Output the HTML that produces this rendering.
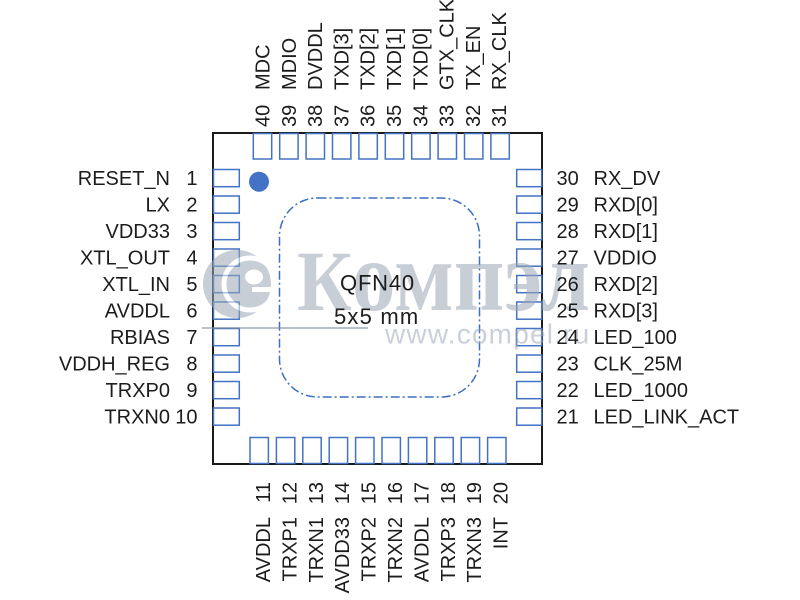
<!DOCTYPE html>
<html>
<head>
<meta charset="utf-8">
<style>
html,body{margin:0;padding:0;background:#fff;}
svg{display:block;}
text{font-family:"Liberation Sans","DejaVu Sans",sans-serif;fill:#1c1c1c;}
</style>
</head>
<body>
<svg width="800" height="600" viewBox="0 0 800 600" xmlns="http://www.w3.org/2000/svg">
  <rect x="0" y="0" width="800" height="600" fill="#fff"/>
  <!-- chip body -->
  <rect x="213" y="133" width="329" height="331" fill="#fff" stroke="#1a1a1a" stroke-width="2"/>

  <!-- inner dash-dot rounded rect -->
  <rect x="279.5" y="198" width="200" height="199" rx="38" ry="38" fill="none" stroke="#3f6fc0" stroke-width="1.5" stroke-dasharray="9 3 2 3"/>

  <!-- pins -->
  <g fill="#fff" stroke="#4472c4" stroke-width="1.5">
    <rect x="213.5" y="169.5" width="25.8" height="17.2"/>
    <rect x="213.5" y="196" width="25.8" height="17.2"/>
    <rect x="213.5" y="222.5" width="25.8" height="17.2"/>
    <rect x="213.5" y="249" width="25.8" height="17.2"/>
    <rect x="213.5" y="275.5" width="25.8" height="17.2"/>
    <rect x="213.5" y="302" width="25.8" height="17.2"/>
    <rect x="213.5" y="328.5" width="25.8" height="17.2"/>
    <rect x="213.5" y="355" width="25.8" height="17.2"/>
    <rect x="213.5" y="381.5" width="25.8" height="17.2"/>
    <rect x="213.5" y="408" width="25.8" height="17.2"/>
    <rect x="516.7" y="169.5" width="25" height="17.2"/>
    <rect x="516.7" y="196" width="25" height="17.2"/>
    <rect x="516.7" y="222.5" width="25" height="17.2"/>
    <rect x="516.7" y="249" width="25" height="17.2"/>
    <rect x="516.7" y="275.5" width="25" height="17.2"/>
    <rect x="516.7" y="302" width="25" height="17.2"/>
    <rect x="516.7" y="328.5" width="25" height="17.2"/>
    <rect x="516.7" y="355" width="25" height="17.2"/>
    <rect x="516.7" y="381.5" width="25" height="17.2"/>
    <rect x="516.7" y="408" width="25" height="17.2"/>
    <rect x="253.3" y="133.5" width="18.4" height="25.5"/>
    <rect x="279.7" y="133.5" width="18.4" height="25.5"/>
    <rect x="306.1" y="133.5" width="18.4" height="25.5"/>
    <rect x="332.5" y="133.5" width="18.4" height="25.5"/>
    <rect x="358.9" y="133.5" width="18.4" height="25.5"/>
    <rect x="385.3" y="133.5" width="18.4" height="25.5"/>
    <rect x="411.7" y="133.5" width="18.4" height="25.5"/>
    <rect x="438.1" y="133.5" width="18.4" height="25.5"/>
    <rect x="464.5" y="133.5" width="18.4" height="25.5"/>
    <rect x="490.9" y="133.5" width="18.4" height="25.5"/>
    <rect x="250" y="437.5" width="18.4" height="26"/>
    <rect x="276.4" y="437.5" width="18.4" height="26"/>
    <rect x="302.8" y="437.5" width="18.4" height="26"/>
    <rect x="329.2" y="437.5" width="18.4" height="26"/>
    <rect x="355.6" y="437.5" width="18.4" height="26"/>
    <rect x="382" y="437.5" width="18.4" height="26"/>
    <rect x="408.4" y="437.5" width="18.4" height="26"/>
    <rect x="434.8" y="437.5" width="18.4" height="26"/>
    <rect x="461.2" y="437.5" width="18.4" height="26"/>
    <rect x="487.6" y="437.5" width="18.4" height="26"/>
  </g>

  <!-- pin 1 dot -->
  <circle cx="259" cy="181.7" r="10" fill="#4472c4"/>

  <!-- watermark -->
  <g opacity="0.55">
    <line x1="202" y1="328" x2="368" y2="328" stroke="#7f8da0" stroke-width="2"/>
    <circle cx="237" cy="284" r="34" fill="#9aa7b6"/>
    <circle cx="250" cy="284" r="26" fill="none" stroke="#fff" stroke-width="5"/>
    <ellipse cx="254" cy="277" rx="9" ry="7.5" fill="#fff"/>
    <rect x="252" y="287" width="24" height="5" fill="#fff"/>
    <text x="297" y="310" textLength="293" lengthAdjust="spacingAndGlyphs" style="fill:#9aa7b6;font-family:'Liberation Serif','DejaVu Serif',serif;font-weight:bold;"><tspan style="font-size:86px">К</tspan><tspan style="font-size:100px">омпэл</tspan></text>
    <text x="385" y="343.5" style="fill:#9eaabb;font-size:28px;letter-spacing:1.2px;">www.compel.ru</text>
  </g>

  <!-- center labels -->
  <text x="377.5" y="290.5" text-anchor="middle" style="font-size:22px;letter-spacing:0.8px;">QFN40</text>
  <text x="376.7" y="324" text-anchor="middle" style="font-size:22px;letter-spacing:1.2px;">5x5 mm</text>

  <g style="font-size:20px;">
    <g text-anchor="end">
      <text x="170" y="185">RESET_N</text>
      <text x="170" y="211.5">LX</text>
      <text x="170" y="238">VDD33</text>
      <text x="170" y="264.5">XTL_OUT</text>
      <text x="170" y="291">XTL_IN</text>
      <text x="170" y="317.5">AVDDL</text>
      <text x="170" y="344">RBIAS</text>
      <text x="170" y="370.5">VDDH_REG</text>
      <text x="170" y="397">TRXP0</text>
      <text x="170" y="423.5">TRXN0</text>
      <text x="197.5" y="185">1</text>
      <text x="197.5" y="211.5">2</text>
      <text x="197.5" y="238">3</text>
      <text x="197.5" y="264.5">4</text>
      <text x="197.5" y="291">5</text>
      <text x="197.5" y="317.5">6</text>
      <text x="197.5" y="344">7</text>
      <text x="197.5" y="370.5">8</text>
      <text x="197.5" y="397">9</text>
      <text x="197.5" y="423.5">10</text>
    </g>
    <g>
      <text x="556.5" y="185">30</text>
      <text x="556.5" y="211.5">29</text>
      <text x="556.5" y="238">28</text>
      <text x="556.5" y="264.5">27</text>
      <text x="556.5" y="291">26</text>
      <text x="556.5" y="317.5">25</text>
      <text x="556.5" y="344">24</text>
      <text x="556.5" y="370.5">23</text>
      <text x="556.5" y="397">22</text>
      <text x="556.5" y="423.5">21</text>
      <text x="593.5" y="185">RX_DV</text>
      <text x="593.5" y="211.5">RXD[0]</text>
      <text x="593.5" y="238">RXD[1]</text>
      <text x="593.5" y="264.5">VDDIO</text>
      <text x="593.5" y="291">RXD[2]</text>
      <text x="593.5" y="317.5">RXD[3]</text>
      <text x="593.5" y="344">LED_100</text>
      <text x="593.5" y="370.5">CLK_25M</text>
      <text x="593.5" y="397">LED_1000</text>
      <text x="593.5" y="423.5">LED_LINK_ACT</text>
    </g>
    <g>
      <text transform="translate(269.5,127) rotate(-90)">40</text>
      <text transform="translate(295.8,127) rotate(-90)">39</text>
      <text transform="translate(322.1,127) rotate(-90)">38</text>
      <text transform="translate(348.4,127) rotate(-90)">37</text>
      <text transform="translate(374.7,127) rotate(-90)">36</text>
      <text transform="translate(401,127) rotate(-90)">35</text>
      <text transform="translate(427.3,127) rotate(-90)">34</text>
      <text transform="translate(453.6,127) rotate(-90)">33</text>
      <text transform="translate(479.9,127) rotate(-90)">32</text>
      <text transform="translate(506.2,127) rotate(-90)">31</text>
      <text transform="translate(269.5,90) rotate(-90)">MDC</text>
      <text transform="translate(295.8,90) rotate(-90)">MDIO</text>
      <text transform="translate(322.1,90) rotate(-90)">DVDDL</text>
      <text transform="translate(348.4,90) rotate(-90)">TXD[3]</text>
      <text transform="translate(374.7,90) rotate(-90)">TXD[2]</text>
      <text transform="translate(401,90) rotate(-90)">TXD[1]</text>
      <text transform="translate(427.3,90) rotate(-90)">TXD[0]</text>
      <text transform="translate(453.6,90) rotate(-90)">GTX_CLK</text>
      <text transform="translate(479.9,90) rotate(-90)">TX_EN</text>
      <text transform="translate(506.2,90) rotate(-90)">RX_CLK</text>
    </g>
    <g text-anchor="end">
      <text transform="translate(270,482) rotate(-90)">11</text>
      <text transform="translate(296.4,482) rotate(-90)">12</text>
      <text transform="translate(322.8,482) rotate(-90)">13</text>
      <text transform="translate(349.2,482) rotate(-90)">14</text>
      <text transform="translate(375.6,482) rotate(-90)">15</text>
      <text transform="translate(402,482) rotate(-90)">16</text>
      <text transform="translate(428.4,482) rotate(-90)">17</text>
      <text transform="translate(454.8,482) rotate(-90)">18</text>
      <text transform="translate(481.2,482) rotate(-90)">19</text>
      <text transform="translate(507.6,482) rotate(-90)">20</text>
      <text transform="translate(270,517) rotate(-90)">AVDDL</text>
      <text transform="translate(296.4,517) rotate(-90)">TRXP1</text>
      <text transform="translate(322.8,517) rotate(-90)">TRXN1</text>
      <text transform="translate(349.2,517) rotate(-90)">AVDD33</text>
      <text transform="translate(375.6,517) rotate(-90)">TRXP2</text>
      <text transform="translate(402,517) rotate(-90)">TRXN2</text>
      <text transform="translate(428.4,517) rotate(-90)">AVDDL</text>
      <text transform="translate(454.8,517) rotate(-90)">TRXP3</text>
      <text transform="translate(481.2,517) rotate(-90)">TRXN3</text>
      <text transform="translate(507.6,517) rotate(-90)">INT</text>
    </g>
  </g>
</svg>
</body>
</html>
